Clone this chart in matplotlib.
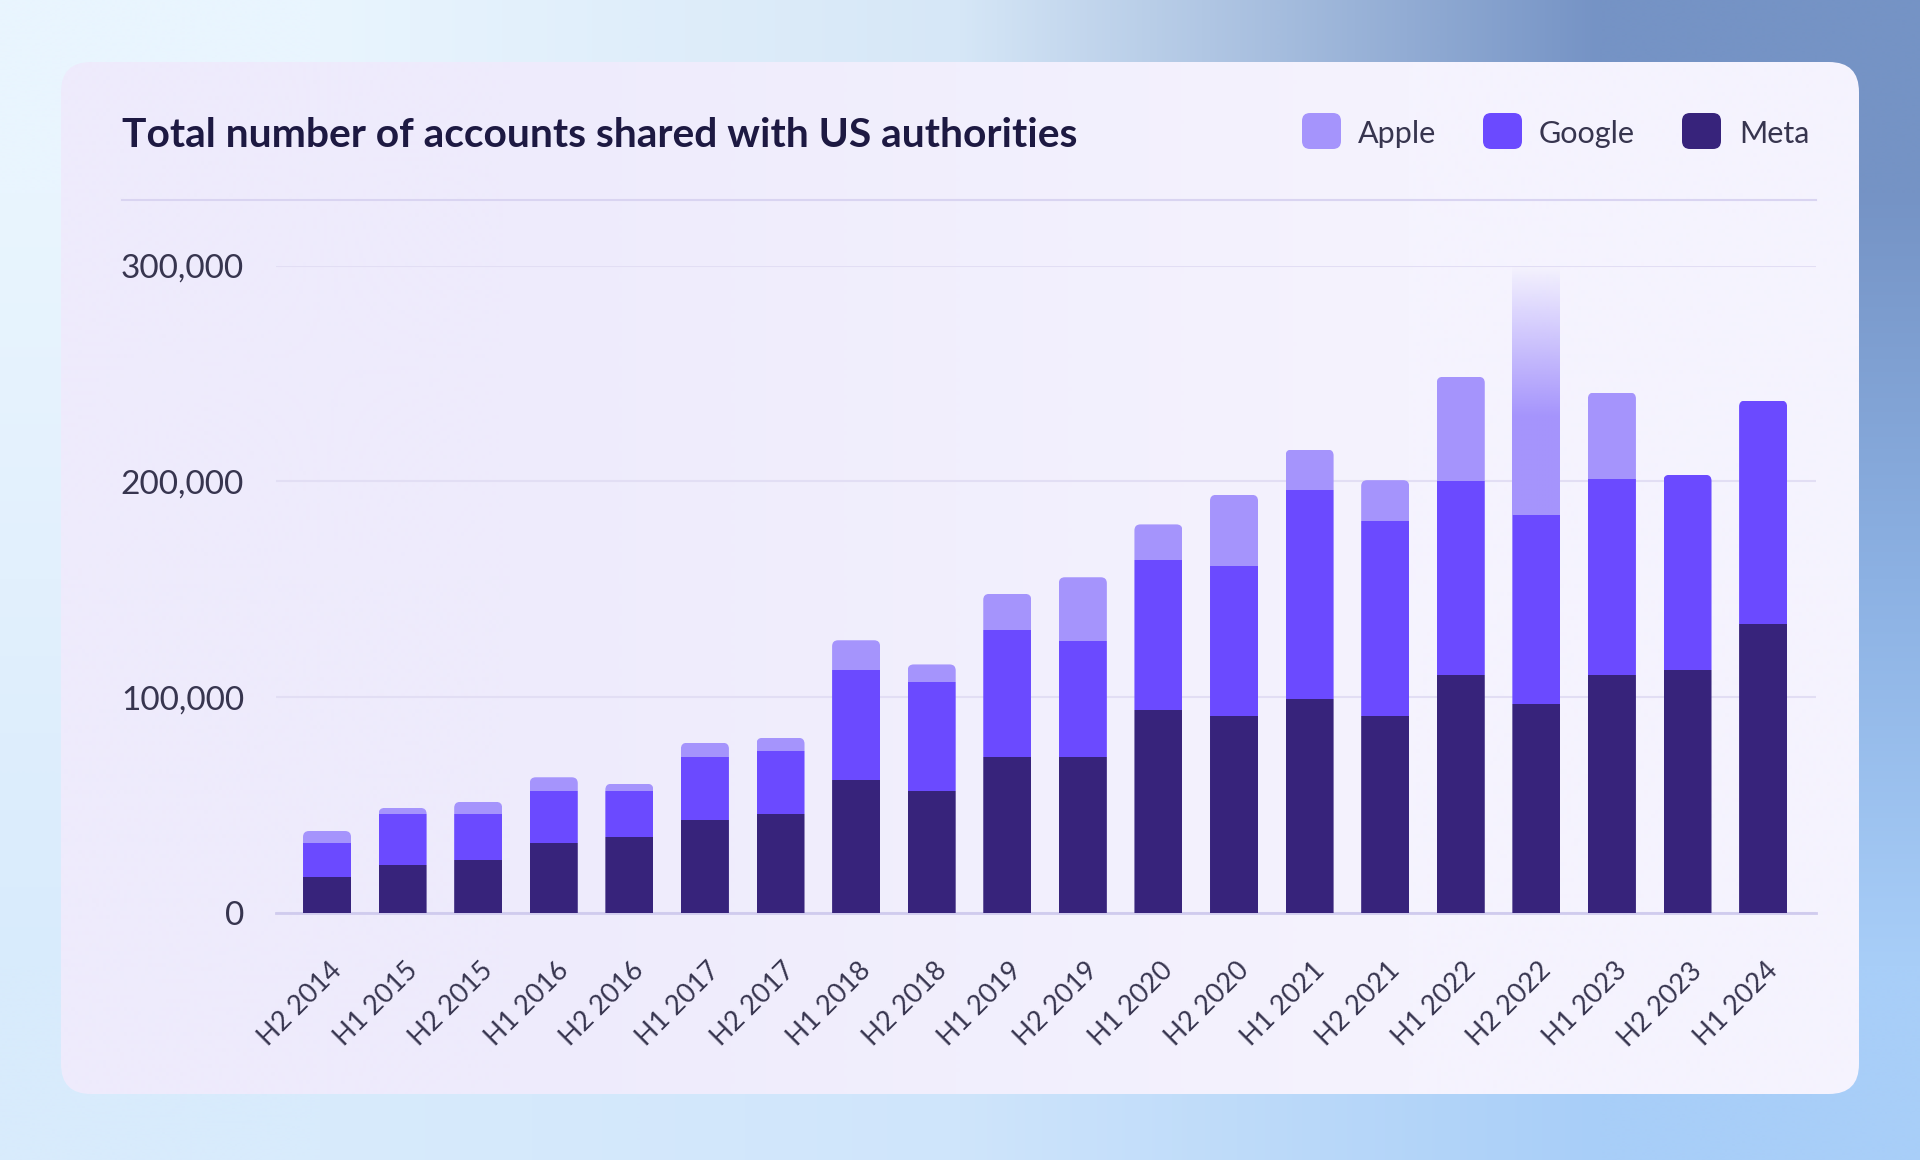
import matplotlib
matplotlib.use('Agg')
import matplotlib.pyplot as plt
import matplotlib.transforms as mtransforms
import numpy as np
from matplotlib.colors import to_rgb
from matplotlib.patches import FancyBboxPatch

plt.rcParams['font.family'] = ['Lato', 'DejaVu Sans']

# values (accounts per half-year)
periods = ['H2 2014', 'H1 2015', 'H2 2015', 'H1 2016', 'H2 2016', 'H1 2017', 'H2 2017',
           'H1 2018', 'H2 2018', 'H1 2019', 'H2 2019', 'H1 2020', 'H2 2020', 'H1 2021',
           'H2 2021', 'H1 2022', 'H2 2022', 'H1 2023', 'H2 2023', 'H1 2024']
meta = [16800, 22200, 24700, 32600, 35200, 43300, 45900, 61500, 56500, 72400,
        72400, 93900, 91400, 99100, 91500, 110100, 96900, 110100, 112800, 134000]
google = [15800, 23900, 21200, 24100, 21500, 29000, 29100, 51000, 50700, 58800,
          53700, 69700, 69500, 97000, 90400, 90300, 87400, 90900, 90300, 103500]
apple = [5400, 2600, 5600, 6200, 3200, 6600, 6200, 13900, 8000, 16700,
         29500, 16500, 32900, 18700, 18700, 48100, 150000, 40200, 0, 0]
yticks = [0, 100000, 200000, 300000]
title = 'Total number of accounts shared with US authorities'
series = ['Apple', 'Google', 'Meta']

APPLE, GOOGLE, META = '#a594fc', '#6b4aff', '#37237b'
TXT = '#37354f'

W, H = 1920, 1160
fig = plt.figure(figsize=(W / 100, H / 100), dpi=100)

# page background + card, in pixel coordinates
bg = fig.add_axes([0, 0, 1, 1], zorder=-10)
bg_cols = [['#e9f5fe', '#d6e7f7', '#7593c5'],
           ['#e2f0fd', '#d0e4f8', '#8cb1e3'],
           ['#d8ebfc', '#cfe5fb', '#a8cef8']]
bg.imshow(np.array([[to_rgb(c) for c in row] for row in bg_cols]),
          extent=[0, W, 0, H], interpolation='bilinear', aspect='auto')
card = FancyBboxPatch((61, H - 1094), 1798, 1032, boxstyle='round,pad=0,rounding_size=30',
                      transform=bg.transData, facecolor='none', edgecolor='none')
bg.add_patch(card)
im = bg.imshow(np.array([[to_rgb('#eeebfc'), to_rgb('#f5f3fe')]]),
               extent=[61, 1859, H - 1094, H - 62], interpolation='bilinear', aspect='auto')
im.set_clip_path(card)
bg.set_xlim(0, W)
bg.set_ylim(0, H)
bg.axis('off')

t = bg.text(122, H - 147, title, fontsize=28, fontweight='bold', color='#1d1942', va='baseline')
w = t.get_window_extent(renderer=fig.canvas.get_renderer()).width
t.set_fontsize(28 * 955 / w)
bg.plot([122, 1816], [H - 200, H - 200], color='#d9d4f1', lw=1.5)

# legend
for name, col, sx, tx in zip(series, [APPLE, GOOGLE, META], [1302, 1483, 1682], [1358, 1539, 1739]):
    bg.add_patch(FancyBboxPatch((sx, H - 149), 39, 36, boxstyle='round,pad=0,rounding_size=8',
                                facecolor=col, edgecolor='none'))
    bg.text(tx, H - 143, name, fontsize=22, color=TXT, va='baseline')

# main chart
L, R, B, T = 276, 1816, 913, 265.7
ax = fig.add_axes([L / W, 1 - B / H, (R - L) / W, (B - T) / H])
ax.set_facecolor('none')
x = np.arange(len(periods))
meta_a, google_a, apple_a = np.array(meta), np.array(google), np.array(apple)
total = meta_a + google_a + apple_a
xlim = (-0.675, 19.70)
ylim = (0, 300000)
bw = 0.635

b1 = ax.bar(x, meta_a, bw, color=META, lw=0, zorder=3)
b2 = ax.bar(x, google_a, bw, bottom=meta_a, color=GOOGLE, lw=0, zorder=3)
b3 = ax.bar(x, apple_a, bw, bottom=meta_a + google_a, color=APPLE, lw=0, zorder=3)

# bars running past the top fade out
for i in np.where(total > ylim[1])[0]:
    b3[i].set_visible(False)
    y0 = meta_a[i] + google_a[i]
    ys = np.linspace(y0, ylim[1], 300)
    alpha = np.clip((ylim[1] - ys) / (ylim[1] - 230000), 0, 1)
    rgba = np.zeros((len(ys), 1, 4))
    rgba[:, 0, :3] = to_rgb(APPLE)
    rgba[:, 0, 3] = alpha
    ax.imshow(rgba, extent=[x[i] - bw / 2, x[i] + bw / 2, y0, ylim[1]], origin='lower',
              aspect='auto', interpolation='bilinear', zorder=3)

ax.set_xlim(*xlim)
ax.set_ylim(*ylim)

# rounded top corners
px_x = (R - L) / (xlim[1] - xlim[0])
px_y = (B - T) / (ylim[1] - ylim[0])
rx = 6 / px_x
for i in x:
    clip = FancyBboxPatch((x[i] - bw / 2, -50000), bw, total[i] + 50000,
                          boxstyle=f'round,pad=0,rounding_size={rx}',
                          mutation_aspect=px_x / px_y, transform=ax.transData)
    for b in (b1, b2, b3):
        b[i].set_clip_path(clip)

ax.set_yticks(yticks)
ax.set_yticklabels([f'{v:,}' for v in yticks], fontsize=24, color=TXT)
ax.tick_params(axis='y', length=0, pad=23)
ax.yaxis.grid(True, color='#e2def4', lw=1.5)
ax.set_axisbelow(True)
ax.axhline(0, color='#d0cbee', lw=2, zorder=2, clip_on=False)
for s in ax.spines.values():
    s.set_visible(False)

ax.set_xticks([])
lab_tr = mtransforms.offset_copy(ax.get_xaxis_transform(), fig=fig, x=2, y=-45, units='dots')
for xi, p in zip(x, periods):
    ax.text(xi, 0, p, transform=lab_tr, rotation=45, ha='right', va='top',
            rotation_mode='anchor', fontsize=19.5, color=TXT)

fig.savefig('out.png', dpi=100)
